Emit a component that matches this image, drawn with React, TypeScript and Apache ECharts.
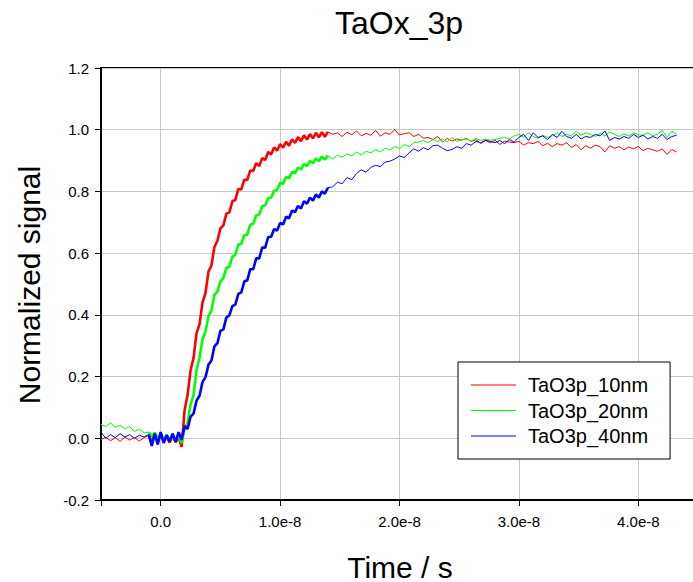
import React, { useEffect, useRef } from "react";
import * as echarts from "echarts";

// time in units of 1e-8 s
const time: number[] = [
  -0.5, -0.46, -0.42, -0.38, -0.34, -0.3, -0.26, -0.22, -0.18, -0.14,
  -0.1, -0.075, -0.05, -0.025, 0, 0.025, 0.05, 0.075, 0.1, 0.125, 0.15, 0.175, 0.2, 0.225, 0.25, 0.275, 0.3,
  0.325, 0.35, 0.375, 0.4, 0.425, 0.45, 0.475, 0.5, 0.525, 0.55, 0.575, 0.6, 0.625, 0.65, 0.675, 0.7,
  0.725, 0.75, 0.775, 0.8, 0.825, 0.85, 0.875, 0.9, 0.925, 0.95, 0.975, 1, 1.025, 1.05, 1.075, 1.1,
  1.125, 1.15, 1.175, 1.2, 1.225, 1.25, 1.275, 1.3, 1.325, 1.35, 1.375, 1.4,
  1.44, 1.48, 1.52, 1.56, 1.6, 1.64, 1.68, 1.72, 1.76, 1.8, 1.84, 1.88, 1.92, 1.96, 2.0,
  2.04, 2.08, 2.12, 2.16, 2.2, 2.24, 2.28, 2.32, 2.36, 2.4, 2.44, 2.48, 2.52, 2.56, 2.6,
  2.64, 2.68, 2.72, 2.76, 2.8, 2.84, 2.88, 2.92, 2.96, 3.0,
  3.04, 3.08, 3.12, 3.16, 3.2, 3.24, 3.28, 3.32, 3.36, 3.4, 3.44, 3.48, 3.52, 3.56, 3.6,
  3.64, 3.68, 3.72, 3.76, 3.8, 3.84, 3.88, 3.92, 3.96, 4.0,
  4.04, 4.08, 4.12, 4.16, 4.2, 4.24, 4.28, 4.32,
];

// densely sampled stretch of the record (index range in the arrays above)
const denseStart = 10;
const denseEnd = 70;

const red10: number[] = [
  -0.004, 0.003, -0.008, 0.002, -0.01, 0.004, -0.006, 0.003, -0.009, 0.002,
  0.01, -0.012, 0.008, -0.01, 0.012, -0.008, 0.006, -0.014, 0.009, -0.012, 0.004, -0.028, 0.09, 0.14, 0.22, 0.26, 0.34,
  0.37, 0.44, 0.47, 0.54, 0.56, 0.62, 0.64, 0.68, 0.69, 0.728, 0.732, 0.768, 0.772, 0.808, 0.806, 0.838,
  0.837, 0.868, 0.866, 0.892, 0.882, 0.908, 0.902, 0.928, 0.92, 0.943, 0.932, 0.953, 0.942, 0.961, 0.948, 0.969,
  0.957, 0.976, 0.963, 0.982, 0.968, 0.986, 0.972, 0.99, 0.975, 0.992, 0.977, 0.993,
  0.985, 0.99, 0.978, 0.992, 0.984, 0.996, 0.98, 0.988, 0.982, 0.998, 0.979, 0.99, 0.985, 1.0, 0.983,
  0.987, 0.99, 0.978, 0.985, 0.972, 0.975, 0.968, 0.978, 0.96, 0.972, 0.963, 0.97, 0.966, 0.972, 0.962,
  0.968, 0.955, 0.965, 0.958, 0.966, 0.952, 0.963, 0.96, 0.958, 0.962,
  0.95, 0.958, 0.955, 0.962, 0.948, 0.956, 0.945, 0.955, 0.95, 0.958, 0.942, 0.952, 0.935, 0.948, 0.94,
  0.95, 0.945, 0.928, 0.948, 0.94, 0.945, 0.935, 0.944, 0.938, 0.946,
  0.932, 0.94, 0.935, 0.93, 0.938, 0.92, 0.936, 0.928,
];

const green20: number[] = [
  0.045, 0.038, 0.05, 0.036, 0.042, 0.03, 0.038, 0.022, 0.03, 0.018,
  0.02, 0.005, 0.018, 0.002, 0.015, -0.005, 0.012, -0.008, 0.01, -0.01, 0.008, -0.015, 0.03, 0.05, 0.11, 0.14, 0.22,
  0.26, 0.32, 0.345, 0.395, 0.415, 0.465, 0.475, 0.508, 0.52, 0.552, 0.556, 0.588, 0.595, 0.628, 0.63, 0.658,
  0.66, 0.692, 0.695, 0.722, 0.725, 0.752, 0.755, 0.778, 0.78, 0.802, 0.805, 0.828, 0.825, 0.847, 0.843, 0.863,
  0.859, 0.877, 0.871, 0.889, 0.882, 0.899, 0.891, 0.907, 0.898, 0.913, 0.903, 0.916,
  0.905, 0.918, 0.91, 0.922, 0.915, 0.928, 0.918, 0.93, 0.925, 0.936, 0.928, 0.94, 0.935, 0.945, 0.94,
  0.952, 0.945, 0.958, 0.96, 0.965, 0.958, 0.968, 0.962, 0.97, 0.96, 0.975, 0.962, 0.968, 0.97, 0.963,
  0.972, 0.965, 0.97, 0.966, 0.968, 0.972, 0.975, 0.97, 0.98, 0.985,
  0.975, 0.99, 0.978, 0.972, 0.982, 0.975, 0.98, 0.99, 0.978, 0.985, 0.98, 0.995, 0.982, 0.99, 0.985,
  0.978, 0.988, 0.98, 0.992, 0.985, 0.978, 0.986, 0.98, 0.99, 0.984,
  0.982, 0.99, 0.98, 0.985, 0.998, 0.975, 0.995, 0.985,
];

const blue40: number[] = [
  0.02, 0.0, 0.012, 0.002, 0.015, 0.004, 0.012, 0.0, 0.01, 0.004,
  0.012, -0.025, 0.015, -0.02, 0.02, -0.015, 0.01, -0.01, 0.015, -0.012, 0.02, -0.005, 0.04, 0.03, 0.07, 0.08, 0.122,
  0.138, 0.182, 0.198, 0.238, 0.252, 0.298, 0.308, 0.348, 0.353, 0.392, 0.398, 0.428, 0.433, 0.468, 0.473, 0.508,
  0.512, 0.548, 0.548, 0.583, 0.583, 0.618, 0.618, 0.652, 0.653, 0.678, 0.673, 0.698, 0.693, 0.718, 0.713, 0.738,
  0.733, 0.753, 0.745, 0.768, 0.76, 0.78, 0.77, 0.79, 0.78, 0.8, 0.793, 0.812,
  0.815, 0.83, 0.825, 0.845, 0.838, 0.858, 0.87, 0.862, 0.878, 0.885, 0.88, 0.895, 0.898, 0.905, 0.915,
  0.91, 0.925, 0.938, 0.93, 0.942, 0.935, 0.948, 0.95, 0.94, 0.932, 0.936, 0.945, 0.94, 0.955, 0.95,
  0.962, 0.958, 0.966, 0.962, 0.958, 0.965, 0.955, 0.968, 0.96, 0.975,
  0.985, 0.965, 0.99, 0.975, 0.98, 0.968, 0.985, 0.975, 0.995, 0.978, 0.972, 0.985, 0.97, 0.978, 0.975,
  0.985, 0.98, 0.996, 0.965, 0.975, 0.97, 0.978, 0.972, 0.985, 0.975,
  0.982, 0.97, 0.978, 0.972, 0.985, 0.968, 0.978, 0.982,
];

const seriesNames = ["TaO3p_10nm", "TaO3p_20nm", "TaO3p_40nm"];
const seriesColors = ["#ff0000", "#00ff00", "#0000ff"];
const seriesValues = [red10, green20, blue40];

const FONT = "'Liberation Sans', Arial, sans-serif";

export default function App() {
  const ref = useRef<HTMLDivElement>(null);
  useEffect(() => {
    if (!ref.current) return;
    const chart = echarts.init(ref.current, undefined, { renderer: "svg" });
    const lineSeries: any[] = [];
    seriesNames.forEach((name, k) => {
      const pts = time.map((t, i) => [t, seriesValues[k][i]]);
      lineSeries.push({
        name,
        type: "line",
        symbol: "none",
        showSymbol: false,
        clip: true,
        color: seriesColors[k],
        lineStyle: { color: seriesColors[k], width: 1 },
        data: pts,
      });
      lineSeries.push({
        name,
        type: "line",
        symbol: "none",
        showSymbol: false,
        clip: true,
        color: seriesColors[k],
        lineStyle: { color: seriesColors[k], width: 2.6 },
        data: pts.slice(denseStart, denseEnd + 1),
      });
    });
    chart.setOption({
      animation: false,
      backgroundColor: "#ffffff",
      textStyle: { fontFamily: FONT },
      grid: {
        left: 101,
        right: 0,
        top: 68,
        bottom: 82,
        show: true,
        borderColor: "#000",
        borderWidth: 2,
        backgroundColor: "transparent",
      },
      xAxis: {
        type: "value",
        min: -0.5,
        max: 4.5,
        splitNumber: 5,
        axisLine: { show: true, onZero: false, lineStyle: { color: "#000", width: 2 } },
        axisTick: { show: true, inside: false, length: 6, lineStyle: { color: "#000", width: 1 } },
        splitLine: { show: true, lineStyle: { color: "#c8c8c8", width: 1 } },
        axisLabel: {
          color: "#000",
          fontSize: 15,
          fontFamily: FONT,
          margin: 14,
          formatter: (v: number) => {
            if (Math.abs(v - Math.round(v)) > 1e-6) return "";
            if (Math.abs(v) < 1e-9) return "0.0";
            return v.toFixed(1) + "e-8";
          },
        },
      },
      yAxis: {
        type: "value",
        min: -0.2,
        max: 1.2,
        interval: 0.2,
        axisLine: { show: true, onZero: false, lineStyle: { color: "#000", width: 2 } },
        axisTick: { show: true, inside: false, length: 6, lineStyle: { color: "#000", width: 1 } },
        splitLine: { show: true, lineStyle: { color: "#c8c8c8", width: 1 } },
        axisLabel: {
          color: "#000",
          fontSize: 15,
          fontFamily: FONT,
          margin: 12,
          formatter: (v: number) => (Math.abs(v) < 1e-9 ? "0.0" : v.toFixed(1)),
        },
      },
      legend: {
        orient: "vertical",
        left: 458,
        top: 362,
        padding: [13, 22, 13, 13],
        icon: "rect",
        itemWidth: 45,
        itemHeight: 1,
        itemGap: 5.5,
        borderColor: "#000",
        borderWidth: 1,
        backgroundColor: "#fff",
        borderRadius: 0,
        data: seriesNames.map((n, k) => ({ name: n, itemStyle: { color: seriesColors[k] } })),
        textStyle: { fontSize: 20, lineHeight: 20, color: "#000", fontFamily: FONT, padding: [0, 0, 0, 7] },
      },
      graphic: [
        {
          type: "text",
          x: 399,
          y: 23,
          style: { text: "TaOx_3p", font: `32px ${FONT}`, fill: "#000", textAlign: "center", textVerticalAlign: "middle" },
        },
        {
          type: "text",
          x: 400,
          y: 567,
          style: { text: "Time / s", font: `30px ${FONT}`, fill: "#000", textAlign: "center", textVerticalAlign: "middle" },
        },
        {
          type: "text",
          x: 29,
          y: 285,
          rotation: Math.PI / 2,
          style: { text: "Normalized signal", font: `30px ${FONT}`, fill: "#000", textAlign: "center", textVerticalAlign: "middle" },
        },
      ],
      series: lineSeries,
    });
    return () => chart.dispose();
  }, []);
  return (
    <div style={{ position: "absolute", left: 0, top: 0, width: 693, height: 582, overflow: "hidden", background: "#fff" }}>
      <div ref={ref} style={{ width: 701, height: 582 }} />
    </div>
  );
}
